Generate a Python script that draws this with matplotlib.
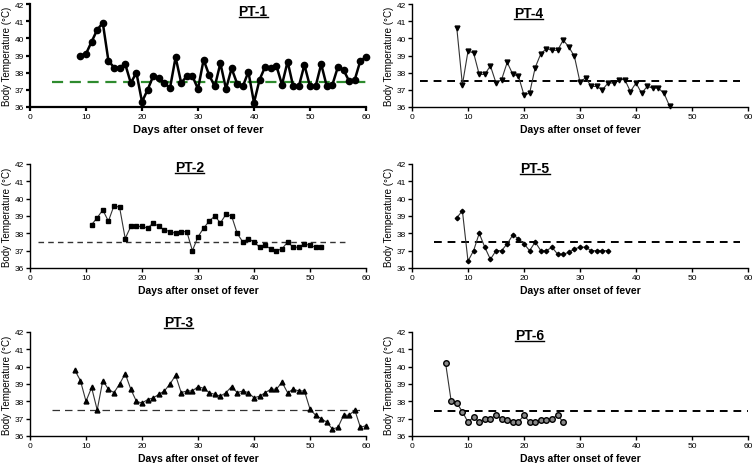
import matplotlib
matplotlib.use("Agg")
import matplotlib.pyplot as plt
from matplotlib.lines import Line2D

plt.rcParams['font.family'] = ['Liberation Sans', 'DejaVu Sans']

# data
days_pt1 = list(range(9, 61))
temp_pt1 = [39.0, 39.1, 39.8, 40.5, 40.9, 38.7, 38.3, 38.3, 38.5, 37.4, 38.0, 36.3, 37.0,
            37.8, 37.7, 37.4, 37.1, 38.9, 37.4, 37.8, 37.8, 37.05, 38.75, 37.85, 37.2, 38.55,
            37.05, 38.25, 37.35, 37.2, 38.05, 36.25, 37.6, 38.35, 38.25, 38.4, 37.3, 38.65,
            37.2, 37.2, 38.45, 37.2, 37.2, 38.5, 37.2, 37.3, 38.35, 38.15, 37.5, 37.6, 38.7, 38.9]

days_pt4 = list(range(8, 47))
temp_pt4 = [40.6, 37.3, 39.25, 39.15, 37.9, 37.9, 38.4, 37.4, 37.6, 38.6, 37.9, 37.8, 36.7,
            36.8, 38.3, 39.1, 39.4, 39.3, 39.3, 39.9, 39.5, 38.95, 37.45, 37.7, 37.2, 37.2,
            37.0, 37.4, 37.4, 37.6, 37.6, 36.9, 37.4, 36.8, 37.2, 37.1, 37.1, 36.8, 36.05]

days_pt2 = list(range(11, 53))
temp_pt2 = [38.5, 38.9, 39.35, 38.7, 39.6, 39.5, 37.7, 38.4, 38.4, 38.4, 38.3, 38.6, 38.4,
            38.2, 38.1, 38.0, 38.1, 38.1, 37.0, 37.8, 38.3, 38.7, 39.0, 38.6, 39.1, 39.0,
            38.0, 37.5, 37.7, 37.5, 37.2, 37.3, 37.1, 37.0, 37.1, 37.5, 37.2, 37.2, 37.4,
            37.3, 37.2, 37.2]

days_pt5 = list(range(8, 36))
temp_pt5 = [38.9, 39.3, 36.4, 37.0, 38.0, 37.2, 36.5, 37.0, 37.0, 37.4, 37.9, 37.7, 37.4,
            37.0, 37.5, 37.0, 37.0, 37.2, 36.8, 36.8, 36.9, 37.1, 37.2, 37.2, 37.0, 37.0,
            37.0, 37.0]

days_pt3 = list(range(8, 61))
temp_pt3 = [39.8, 39.2, 38.0, 38.8, 37.5, 39.2, 38.7, 38.5, 39.0, 39.6, 38.7, 38.0, 37.9,
            38.1, 38.2, 38.4, 38.6, 39.0, 39.5, 38.5, 38.6, 38.6, 38.85, 38.75, 38.5, 38.4,
            38.3, 38.5, 38.85, 38.5, 38.6, 38.5, 38.2, 38.3, 38.5, 38.7, 38.7, 39.1, 38.5,
            38.7, 38.6, 38.6, 37.55, 37.2, 37.0, 36.8, 36.4, 36.5, 37.2, 37.2, 37.5, 36.5, 36.6]

days_pt6 = list(range(6, 28))
temp_pt6 = [40.2, 38.0, 37.9, 37.4, 36.8, 37.1, 36.8, 37.0, 37.0, 37.2, 37.0, 36.9, 36.8,
            36.8, 37.2, 36.8, 36.8, 36.9, 36.9, 37.0, 37.2, 36.8]

# fever threshold lines (start day, end day) and level
ref_pt1 = ([4, 60], [37.45, 37.45])
ref_pt4 = ([1.5, 58.5], [37.5, 37.5])
ref_pt2 = ([1.5, 57], [37.5, 37.5])
ref_pt5 = ([4, 58.5], [37.5, 37.5])
ref_pt3 = ([4, 59.6], [37.5, 37.5])
ref_pt6 = ([4, 60], [37.47, 37.47])

fig = plt.figure(figsize=(7.54, 4.64), dpi=100)

# panel positions in pixels: left, top, bottom
W, H = 754, 464


def make_ax(left, top, bottom):
    return fig.add_axes([left / W, 1 - bottom / H, 336 / W, (bottom - top) / H])


def style(ax, spine_w=1.0):
    ax.set_xlim(0, 60)
    ax.set_ylim(36, 42)
    ax.set_xticks(range(0, 61, 10))
    ax.set_yticks(range(36, 43))
    for s in ['top', 'right']:
        ax.spines[s].set_visible(False)
    for s in ['left', 'bottom']:
        ax.spines[s].set_linewidth(spine_w)
    ax.tick_params(direction='out', length=3, width=spine_w, labelsize=6, pad=1.5)
    ax.set_ylabel('Body Temperature (\u00b0C)', fontsize=7, labelpad=1.5)
    ax.set_xlabel('Days after onset of fever', fontsize=7.5, fontweight='bold', labelpad=3)


titles = []

ax1 = make_ax(30, 5, 108)
ax1.plot(ref_pt1[0], ref_pt1[1], color='#2e8b2e', lw=1.6, dashes=(5, 3))
ax1.plot(days_pt1, temp_pt1, color='black', lw=1.8, marker='o', ms=4.5, clip_on=False)
style(ax1, 1.6)
ax1.xaxis.label.set_fontsize(8)
titles.append(ax1.text(0.664, 0.93, 'PT-1', transform=ax1.transAxes, ha='center',
                       va='center', fontsize=10, fontweight='bold'))

ax4 = make_ax(412, 5, 108)
ax4.plot(ref_pt4[0], ref_pt4[1], color='black', lw=1.4, dashes=(4, 3))
ax4.plot(days_pt4, temp_pt4, color='#333333', lw=0.8, marker='v', ms=3.5,
         mfc='black', mec='black', clip_on=False)
style(ax4)
titles.append(ax4.text(0.348, 0.91, 'PT-4', transform=ax4.transAxes, ha='center',
                       va='center', fontsize=10, fontweight='bold'))

ax2 = make_ax(30, 165, 269)
ax2.plot(ref_pt2[0], ref_pt2[1], color='#333333', lw=1.0, dashes=(4, 3))
ax2.plot(days_pt2, temp_pt2, color='#333333', lw=0.8, marker='s', ms=3.5,
         mfc='black', mec='black', clip_on=False)
style(ax2)
titles.append(ax2.text(0.476, 0.97, 'PT-2', transform=ax2.transAxes, ha='center',
                       va='center', fontsize=10, fontweight='bold'))

ax5 = make_ax(412, 165, 269)
ax5.plot(ref_pt5[0], ref_pt5[1], color='black', lw=1.4, dashes=(4, 3))
ax5.plot(days_pt5, temp_pt5, color='#333333', lw=0.8, marker='D', ms=2.3,
         mfc='black', mec='black', clip_on=False)
style(ax5)
titles.append(ax5.text(0.366, 0.962, 'PT-5', transform=ax5.transAxes, ha='center',
                       va='center', fontsize=10, fontweight='bold'))

ax3 = make_ax(30, 333, 437)
ax3.plot(ref_pt3[0], ref_pt3[1], color='#333333', lw=0.9, dashes=(6, 4))
ax3.plot(days_pt3, temp_pt3, color='#333333', lw=0.8, marker='^', ms=3.5,
         mfc='black', mec='black', clip_on=False)
style(ax3)
titles.append(ax3.text(0.443, 1.096, 'PT-3', transform=ax3.transAxes, ha='center',
                       va='center', fontsize=10, fontweight='bold'))

ax6 = make_ax(412, 333, 437)
ax6.plot(ref_pt6[0], ref_pt6[1], color='black', lw=1.4, dashes=(4, 3))
ax6.plot(days_pt6, temp_pt6, color='#333333', lw=0.8, marker='o', ms=4,
         mfc='#888888', mec='black', mew=1.0, clip_on=False)
style(ax6)
titles.append(ax6.text(0.351, 0.971, 'PT-6', transform=ax6.transAxes, ha='center',
                       va='center', fontsize=10, fontweight='bold'))

# underline the panel titles
fig.canvas.draw()
renderer = fig.canvas.get_renderer()
for t in titles:
    bb = t.get_window_extent(renderer).transformed(fig.transFigure.inverted())
    fig.add_artist(Line2D([bb.x0, bb.x1], [bb.y0 + 0.002, bb.y0 + 0.002],
                          transform=fig.transFigure, color='black', lw=1.0))

fig.savefig('out.png', dpi=100)
